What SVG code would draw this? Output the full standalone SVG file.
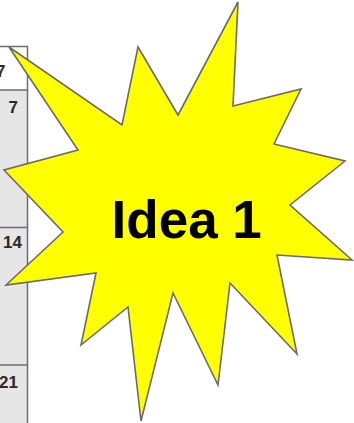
<svg xmlns="http://www.w3.org/2000/svg" width="354" height="423" viewBox="0 0 354 423">
<style>
.grid{stroke:#6e6e6e;stroke-width:1.5;fill:none}
.num{font-family:"Liberation Sans",Arial,sans-serif;font-weight:bold;font-size:17px;fill:#2a2a2a;text-anchor:end}
.star{fill:#ffff00;stroke:#6a6a6a;stroke-width:1.6;stroke-linejoin:miter}
.label{font-family:"Liberation Sans",Arial,sans-serif;font-weight:bold;font-size:53px;fill:#000}
</style>
<rect x="0" y="0" width="354" height="423" fill="#ffffff"/>
<g id="calendar">
<rect x="0" y="90" width="27.5" height="333" fill="#e6e6e6"/>
<path class="grid" d="M0 46.5H27.5V423M0 90H27.5M0 227.5H27.5M0 365H27.5"/>
<text class="num" x="5.5" y="77">7</text>
<text class="num" x="18" y="113">7</text>
<text class="num" x="22" y="248">14</text>
<text class="num" x="18" y="388">21</text>
</g>
<g id="idea1">
<polygon class="star" points="238,2 233,106 301,89 274,144 345,161 290,205 352,260 277,255 297,354 230,283 218,385 173,293 141,421 128,307 81,345 96,273 6,285 63,232 4,170 78,150 9,47 122,125 138,47 178,115"/>
<text class="label" x="111.6" y="238">Idea 1</text>
</g>
<g id="connectors"/>
</svg>
